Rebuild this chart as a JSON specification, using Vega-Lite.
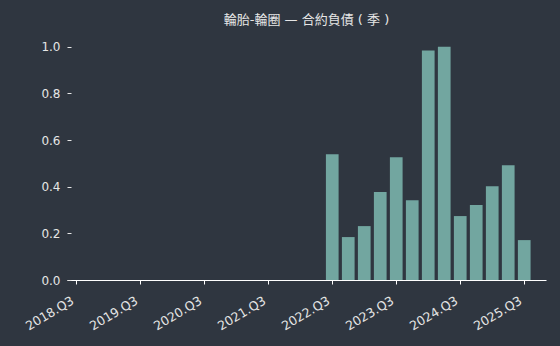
{
  "$schema": "https://vega.github.io/schema/vega-lite/v6.json",
  "autosize": {"type": "none"},
  "width": 479,
  "height": 245,
  "padding": {"left": 67, "top": 35, "right": 14, "bottom": 66},
  "background": "#2f3640",
  "config": {
    "view": {"stroke": null},
    "font": "DejaVu Sans"
  },
  "title": {
    "text": "輪胎-輪圈 — 合約負債 ( 季 )",
    "font": "DejaVu Sans, Noto Sans CJK TC",
    "fontSize": 13,
    "fontWeight": "normal",
    "color": "#e6e6e6",
    "anchor": "middle",
    "offset": 8
  },
  "data": {
    "values": [
      {"quarter": "2022.Q3", "t": 2022.5, "value": 0.539},
      {"quarter": "2022.Q4", "t": 2022.75, "value": 0.184},
      {"quarter": "2023.Q1", "t": 2023.0, "value": 0.231},
      {"quarter": "2023.Q2", "t": 2023.25, "value": 0.377},
      {"quarter": "2023.Q3", "t": 2023.5, "value": 0.526},
      {"quarter": "2023.Q4", "t": 2023.75, "value": 0.342},
      {"quarter": "2024.Q1", "t": 2024.0, "value": 0.984},
      {"quarter": "2024.Q2", "t": 2024.25, "value": 1.0},
      {"quarter": "2024.Q3", "t": 2024.5, "value": 0.274},
      {"quarter": "2024.Q4", "t": 2024.75, "value": 0.321},
      {"quarter": "2025.Q1", "t": 2025.0, "value": 0.402},
      {"quarter": "2025.Q2", "t": 2025.25, "value": 0.492},
      {"quarter": "2025.Q3", "t": 2025.5, "value": 0.171}
    ]
  },
  "mark": {"type": "bar", "color": "#72a6a0", "width": 12.7},
  "encoding": {
    "x": {
      "field": "t",
      "type": "quantitative",
      "scale": {"domain": [2018.433, 2025.762], "nice": false, "zero": false},
      "axis": {
        "title": null,
        "values": [2018.5, 2019.5, 2020.5, 2021.5, 2022.5, 2023.5, 2024.5, 2025.5],
        "labelExpr": "floor(datum.value) + '.Q3'",
        "labelAngle": -31,
        "labelAlign": "right",
        "labelBaseline": "top",
        "labelPadding": 10,
        "labelOffset": -7,
        "labelDx": -12,
        "labelDy": -3,
        "labelFont": "DejaVu Sans",
        "labelFontSize": 12.5,
        "labelColor": "#e6e6e6",
        "domainColor": "#ffffff",
        "domainWidth": 1.2,
        "tickColor": "#ffffff",
        "tickSize": 4,
        "grid": false,
        "labelFlush": false,
        "labelOverlap": false
      }
    },
    "y": {
      "field": "value",
      "type": "quantitative",
      "scale": {"domain": [0, 1.05], "nice": false},
      "axis": {
        "title": null,
        "values": [0, 0.2, 0.4, 0.6, 0.8, 1.0],
        "format": ".1f",
        "domain": false,
        "grid": false,
        "offset": -4,
        "tickSize": 4,
        "tickColor": "#e6e6e6",
        "labelPadding": 7,
        "labelFont": "DejaVu Sans",
        "labelFontSize": 12,
        "labelColor": "#e6e6e6"
      }
    },
    "tooltip": [{"field": "quarter"}, {"field": "value"}]
  }
}
